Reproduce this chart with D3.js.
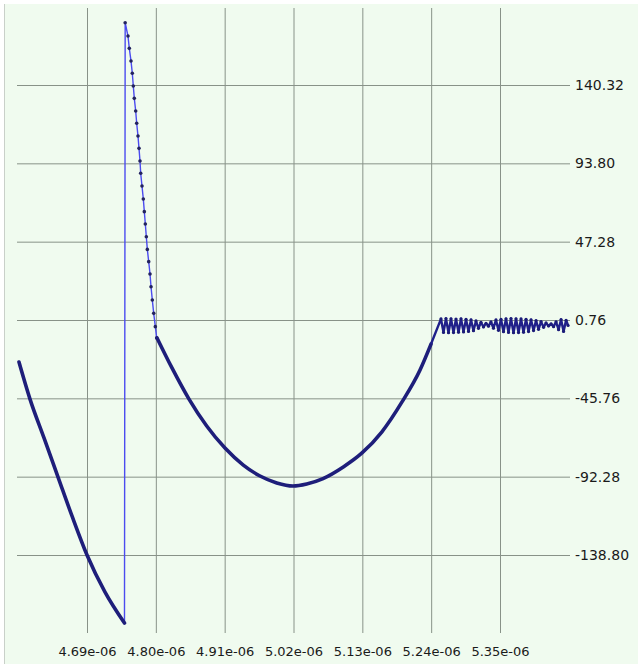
<!DOCTYPE html>
<html>
<head>
<meta charset="utf-8">
<script src="https://cdn.jsdelivr.net/npm/d3@7"></script>
<style>
  body { margin: 0; background: #fff; }
  svg { display: block; }
</style>
</head>
<body>
<div id="chart"></div>
<script>
// tick values and labels
const xTicks = [4.69e-6, 4.80e-6, 4.91e-6, 5.02e-6, 5.13e-6, 5.24e-6, 5.35e-6];
const xTickLabels = ["4.69e-06", "4.80e-06", "4.91e-06", "5.02e-06", "5.13e-06", "5.24e-06", "5.35e-06"];
const yTicks = [-138.80, -92.28, -45.76, 0.76, 47.28, 93.80, 140.32];
const yTickLabels = ["-138.80", "-92.28", "-45.76", "0.76", "47.28", "93.80", "140.32"];

// falling part before the jump
const fallTime = [4.5813e-6, 4.5989e-6, 4.6213e-6, 4.6437e-6, 4.6660e-6, 4.6900e-6, 4.7188e-6, 4.7499e-6];
const fallValue = [-24.2, -46.2, -69.3, -92.5, -115.6, -138.8, -160.8, -179.2];

// sampled decay after the jump (visible markers)
const spikeTime = [4.7510e-6, 4.7555e-6, 4.7576e-6, 4.7603e-6, 4.7624e-6, 4.7640e-6, 4.7656e-6, 4.7678e-6,
  4.7694e-6, 4.7715e-6, 4.7731e-6, 4.7747e-6, 4.7758e-6, 4.7779e-6, 4.7800e-6, 4.7816e-6, 4.7832e-6,
  4.7848e-6, 4.7864e-6, 4.7886e-6, 4.7907e-6, 4.7923e-6, 4.7944e-6, 4.7966e-6, 4.7992e-6, 4.8014e-6];
const spikeValue = [177.3, 169.4, 162.1, 154.6, 147.3, 139.7, 132.4, 124.9, 117.6, 110.0, 102.7, 95.2, 87.9,
  80.3, 72.6, 65.1, 57.8, 50.2, 42.7, 35.4, 28.1, 20.5, 12.6, 4.7, -3.2, -9.9];

// bowl shaped part
const bowlTime = [4.8019e-6, 4.8258e-6, 4.8530e-6, 4.8813e-6, 4.9105e-6, 4.9398e-6, 4.9665e-6, 4.9932e-6,
  5.0192e-6, 5.0411e-6, 5.0672e-6, 5.0996e-6, 5.1295e-6, 5.1610e-6, 5.1934e-6, 5.2222e-6, 5.2398e-6];
const bowlValue = [-9.9, -27.7, -46.2, -62.2, -75.3, -85.4, -91.9, -96.0, -97.8, -96.6, -93.4, -86.5,
  -78.2, -65.8, -47.9, -28.9, -13.5];

// ringing at the end
const ringTime = [5.2557e-6, 5.2597e-6, 5.2637e-6, 5.2677e-6, 5.2717e-6, 5.2757e-6, 5.2797e-6, 5.2837e-6,
  5.2877e-6, 5.2917e-6, 5.2957e-6, 5.2997e-6, 5.3037e-6, 5.3076e-6, 5.3116e-6, 5.3156e-6, 5.3196e-6,
  5.3236e-6, 5.3276e-6, 5.3316e-6, 5.3356e-6, 5.3396e-6, 5.3436e-6, 5.3476e-6, 5.3516e-6, 5.3556e-6,
  5.3596e-6, 5.3636e-6, 5.3676e-6, 5.3716e-6, 5.3756e-6, 5.3796e-6, 5.3836e-6, 5.3876e-6, 5.3916e-6,
  5.3956e-6, 5.3996e-6, 5.4036e-6, 5.4076e-6, 5.4116e-6, 5.4156e-6, 5.4196e-6, 5.4236e-6, 5.4276e-6,
  5.4316e-6, 5.4356e-6, 5.4396e-6, 5.4436e-6, 5.4476e-6, 5.4516e-6, 5.4556e-6, 5.4588e-6];
const ringValue = [1.4, -6.6, 1.6, -6.8, 1.5, -6.7, 1.3, -6.5, 1.5, -6.3, 1.2, -6.0, 0.9, -5.6, 0.2, -4.2,
  -0.6, -3.4, -1.2, -2.9, -0.4, -4.1, 0.8, -5.4, 1.2, -6.2, 1.5, -6.6, 1.6, -6.8, 1.5, -6.7, 1.4, -6.5,
  1.2, -6.1, 0.9, -5.5, 0.4, -4.8, -0.2, -3.6, -1.0, -2.8, -1.5, -3.2, -0.3, -5.0, 1.0, -6.0, 0.6, -2.5];

const width = 638, height = 664;
const plot = { left: 17, right: 570, top: 8, bottom: 633 };

const svg = d3.select("#chart")
  .append("svg")
  .attr("width", width)
  .attr("height", height)
  .attr("font-family", "'DejaVu Sans', sans-serif");

svg.append("rect")
  .attr("x", 5).attr("y", 4)
  .attr("width", width - 5).attr("height", height - 4)
  .attr("fill", "#f0fbef");

svg.append("line")
  .attr("x1", 4.5).attr("x2", 4.5)
  .attr("y1", 4).attr("y2", height)
  .attr("stroke", "#c9d0c9");

let x = d3.scaleLinear()
  .domain([4.69e-6, 5.35e-6])
  .range([87, 500]);

let y = d3.scaleLinear()
  .domain([-138.80, 140.32])
  .range([555, 85]);

// vertical grid + bottom labels
svg.append("g")
  .attr("transform", `translate(0,${plot.bottom})`)
  .call(d3.axisBottom(x)
    .tickValues(xTicks)
    .tickFormat((d, i) => xTickLabels[i])
    .tickSize(-(plot.bottom - plot.top))
    .tickPadding(14))
  .call(g => g.select(".domain").remove())
  .call(g => g.selectAll("line").attr("stroke", "#889288"))
  .call(g => g.selectAll("text")
    .attr("fill", "#1a1a1a")
    .attr("font-size", 13)
    .attr("font-family", "'DejaVu Sans', sans-serif"));

// horizontal grid + right labels
svg.append("g")
  .attr("transform", `translate(${plot.right},0)`)
  .call(d3.axisRight(y)
    .tickValues(yTicks)
    .tickFormat((d, i) => yTickLabels[i])
    .tickSize(-(plot.right - plot.left))
    .tickPadding(5))
  .call(g => g.select(".domain").remove())
  .call(g => g.selectAll("line").attr("stroke", "#889288"))
  .call(g => g.selectAll("text")
    .attr("fill", "#1a1a1a")
    .attr("font-size", 14)
    .attr("font-family", "'DejaVu Sans', sans-serif"));

const zip = (ts, vs) => ts.map((t, i) => ({ t: t, v: vs[i] }));
let fall = zip(fallTime, fallValue);
let spike = zip(spikeTime, spikeValue);
let bowl = zip(bowlTime, bowlValue);
let ring = zip(ringTime, ringValue);

let smooth = d3.line()
  .x(d => x(d.t))
  .y(d => y(d.v))
  .curve(d3.curveMonotoneX);

let straight = d3.line()
  .x(d => x(d.t))
  .y(d => y(d.v));

// thin connecting line: jump + decay
svg.append("path")
  .datum([fall[fall.length - 1]].concat(spike, [bowl[0]]))
  .attr("fill", "none")
  .attr("stroke", "#4b4bef")
  .attr("stroke-width", 1.4)
  .attr("d", straight);

svg.append("g")
  .selectAll("circle")
  .data(spike)
  .join("circle")
  .attr("cx", d => x(d.t))
  .attr("cy", d => y(d.v))
  .attr("r", 1.8)
  .attr("fill", "#22225e");

// dense parts drawn as heavy lines
for (let part of [fall, bowl]) {
  svg.append("path")
    .datum(part)
    .attr("fill", "none")
    .attr("stroke", "#1e1e7a")
    .attr("stroke-width", 3.6)
    .attr("stroke-linecap", "round")
    .attr("d", smooth);
}

svg.append("path")
  .datum([bowl[bowl.length - 1]].concat(ring))
  .attr("fill", "none")
  .attr("stroke", "#20208a")
  .attr("stroke-width", 2.4)
  .attr("stroke-linejoin", "round")
  .attr("d", straight);

svg.append("g")
  .selectAll("circle")
  .data(ring)
  .join("circle")
  .attr("cx", d => x(d.t))
  .attr("cy", d => y(d.v))
  .attr("r", 1.6)
  .attr("fill", "#1c1c78");
</script>
</body>
</html>
